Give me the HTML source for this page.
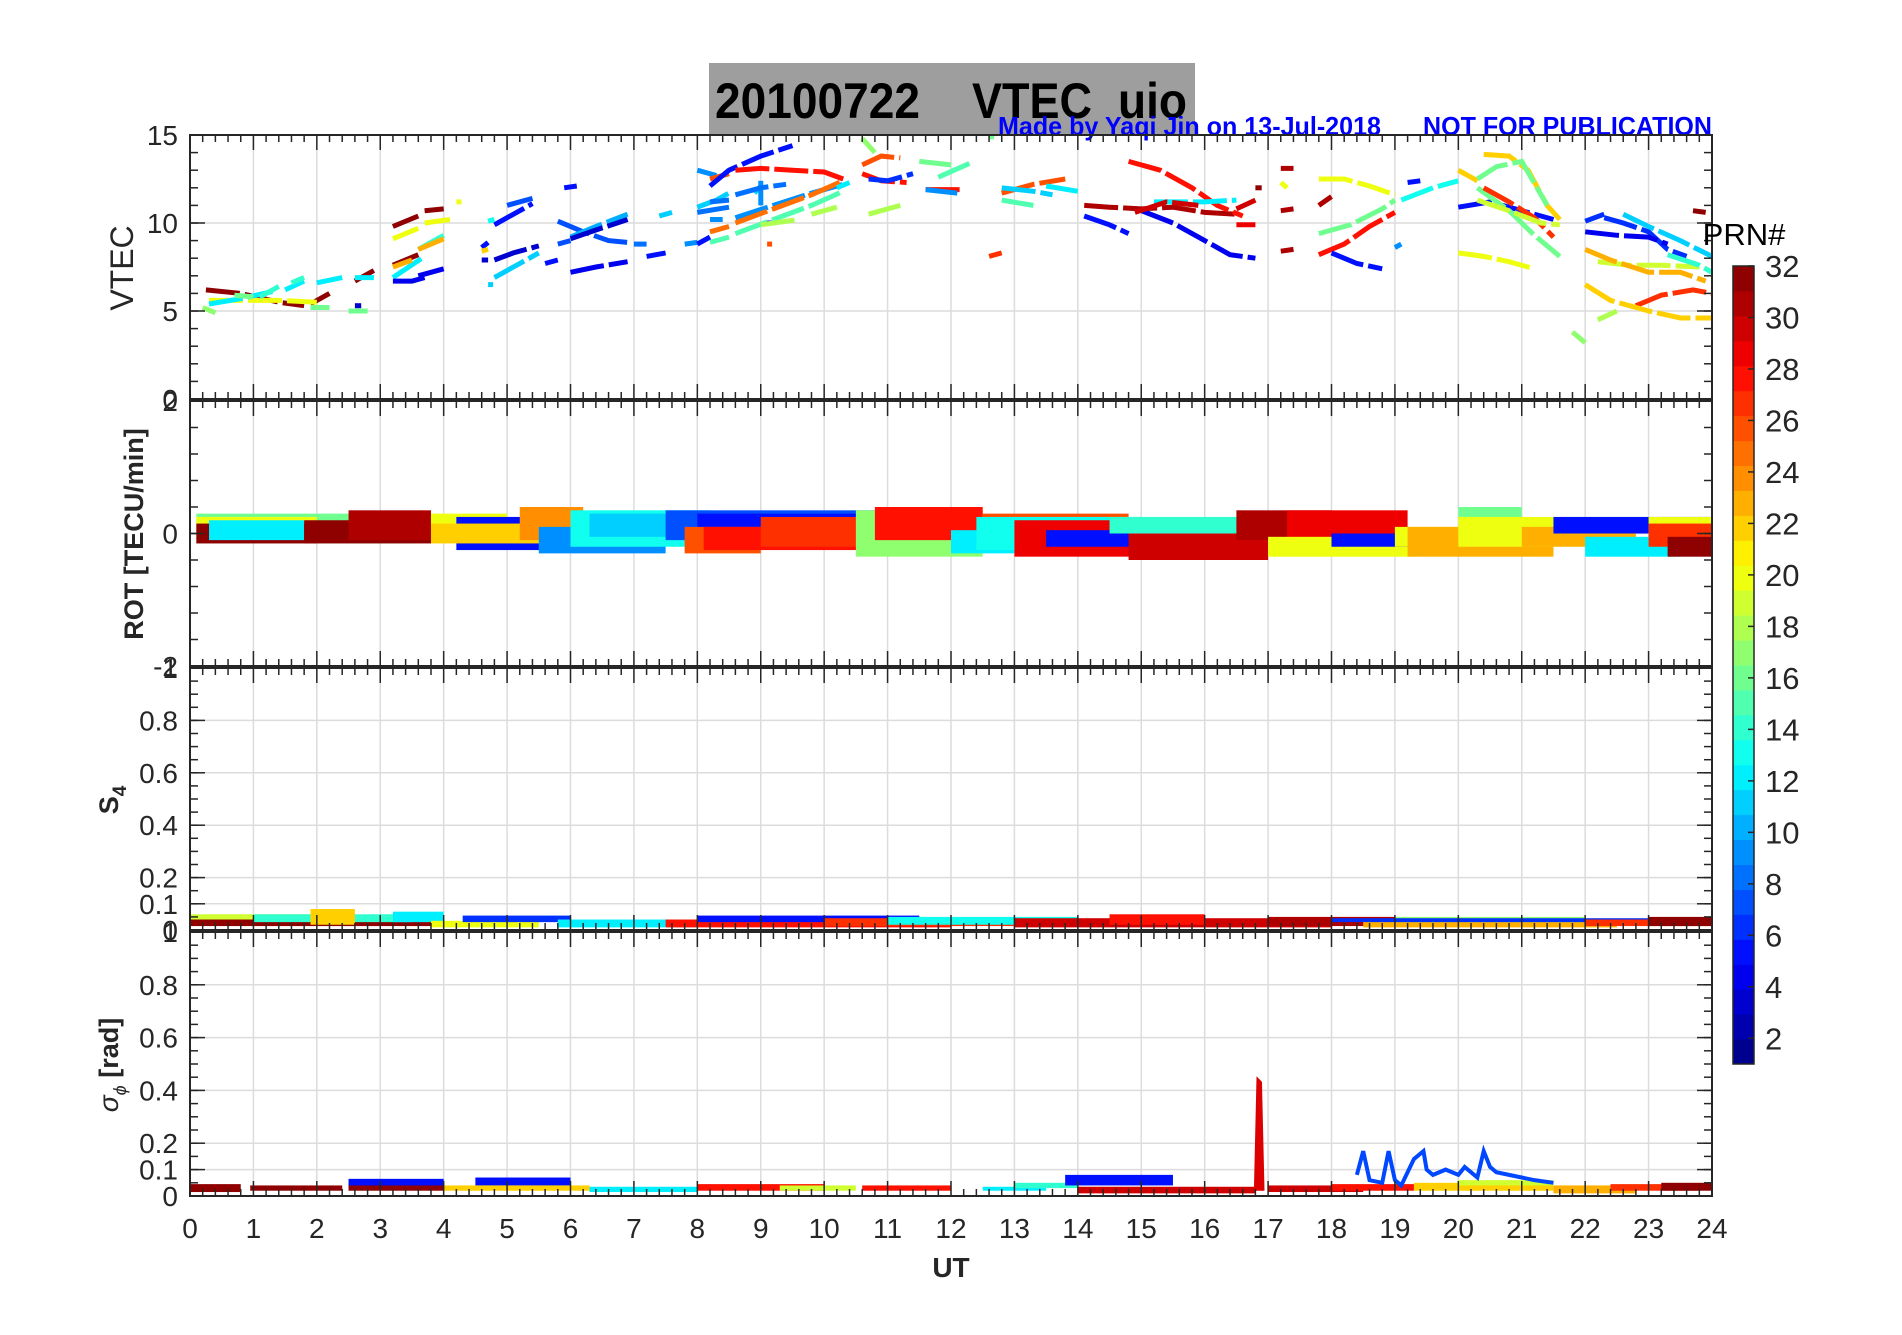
<!DOCTYPE html>
<html><head><meta charset="utf-8"><style>
body{margin:0;background:#fff}
svg text{font-family:"Liberation Sans",sans-serif}
</style></head><body>
<svg id="fig" width="1902" height="1330" xmlns="http://www.w3.org/2000/svg">
<rect width="1902" height="1330" fill="#fff"/>
<rect x="709" y="63" width="486" height="72" fill="#9e9e9e"/>
<text x="715" y="118" font-size="50" font-weight="bold" textLength="205" lengthAdjust="spacingAndGlyphs">20100722</text>
<text x="972" y="118" font-size="50" font-weight="bold" textLength="120" lengthAdjust="spacingAndGlyphs">VTEC</text>
<text x="1118" y="118" font-size="50" font-weight="bold" textLength="69" lengthAdjust="spacingAndGlyphs">uio</text>
<text x="998" y="135" font-size="26" font-weight="bold" fill="#0000ff" textLength="383" lengthAdjust="spacingAndGlyphs">Made by Yaqi Jin on 13-Jul-2018</text>
<text x="1423" y="135" font-size="26" font-weight="bold" fill="#0000ff" textLength="289" lengthAdjust="spacingAndGlyphs">NOT FOR PUBLICATION</text>
<g id="plots"></g>
</svg>
<script>
// ---- data ----
const vtecSegments = [
 [32,[0.25,6.2,0.8,6.0,1.4,5.5,1.8,5.3]],[32,[1.9,5.4,2.2,6.0]],[32,[2.6,6.7,2.9,7.3]],[32,[3.2,9.8,3.6,10.4]],[32,[3.7,10.7,4.0,10.8]],
 [32,[3.2,7.6,3.6,8.2]],[20,[0.3,5.6,0.8,5.6,1.4,5.6,2.0,5.5]],[20,[3.2,9.1,3.6,9.7]],[20,[3.7,10.0,4.1,10.2]],[20,[4.2,11.2]],
 [12,[0.3,5.4,0.8,5.7,1.3,6.1]],[12,[1.5,6.2,1.8,6.7]],[12,[2.0,6.6,2.4,6.9]],[12,[2.6,6.9,2.9,6.9]],[12,[3.2,6.9,3.7,8.1]],
 [14,[1.1,5.8,1.4,6.4]],[14,[1.6,6.6,1.8,6.9]],[14,[3.6,8.5,4.0,9.3]],[16,[0.7,5.9,1.0,5.8]],[16,[1.9,5.2,2.2,5.2]],[16,[2.5,5.0,2.8,5.0]],
 [17,[0.2,5.2,0.4,4.9]],[3,[2.6,5.3,2.7,5.3]],[4,[3.2,6.7,3.5,6.7,3.7,6.9]],[4,[3.6,7.0,4.0,7.4]],[23,[3.2,7.5,3.5,7.9]],[23,[3.6,8.5,4.0,9.1]],
 [5,[4.6,8.6,4.7,8.9]],[5,[4.8,9.9,5.0,10.3,5.4,11.1]],[7,[5.0,11.0,5.4,11.4]],[3,[4.6,7.9,4.7,7.9]],[3,[4.8,7.9,5.1,8.3,5.5,8.7]],
 [11,[4.7,6.5]],[11,[4.8,6.9,5.1,7.5,5.5,8.3]],[13,[4.7,10.1,4.8,10.2]],[22,[4.6,8.4,4.7,8.5]],
 [5,[5.6,7.7,5.8,7.9]],[7,[5.8,8.8,6.0,9.0]],[5,[5.9,12.0,6.1,12.1]],[7,[5.8,10.1,6.2,9.5,6.6,9.0,6.9,8.9]],
 [10,[6.0,9.2,6.4,9.8,6.9,10.5]],[3,[6.0,9.1,6.4,9.6,6.9,10.2]],[4,[6.0,7.2,6.4,7.5,6.9,7.8]],[8,[7.0,8.8,7.2,8.8]],[5,[7.2,8.1,7.5,8.3]],
 [11,[7.4,10.4,7.6,10.6]],[9,[7.8,8.8,8.0,8.9]],[5,[8.0,8.8,8.2,9.2]],[11,[8.0,10.9,8.3,11.3,8.5,11.7]],[8,[8.0,10.6,8.5,10.9]],
 [9,[8.0,13.0,8.3,12.7]],[11,[8.9,11.7,9.0,12.1]],[9,[9.0,11.0,9.0,12.4]],[26,[9.1,8.8]],[5,[9.1,10.0]],
 [26,[8.2,12.5,8.5,12.8]],[5,[8.2,12.1,8.5,13.0,9.0,13.8,9.5,14.4]],[28,[8.6,13.0,9.0,13.1,9.5,13.0,10.0,12.9,10.3,12.5]],
 [8,[8.2,11.2,8.5,11.3]],[8,[8.6,11.6,9.0,12.0,9.4,12.2]],[9,[8.2,10.2,8.4,10.2]],[9,[8.6,10.3,9.2,11.0,9.8,11.7,10.3,12.2]],
 [25,[8.2,9.5,8.5,9.8]],[25,[8.6,10.0,9.2,10.8,9.8,11.6,10.3,12.4]],[15,[8.2,8.9,8.5,9.2]],[15,[8.6,9.4,9.2,10.2,9.8,11.0,10.3,11.8]],
 [18,[9.0,9.9,9.6,10.2]],[18,[9.8,10.5,10.2,10.9]],[12,[10.2,12.0,10.4,12.3]],
 [17,[10.6,14.8,10.8,14.0]],[26,[10.6,13.3,10.9,13.8,11.2,13.7]],[28,[10.6,12.8,10.9,12.4,11.3,12.3]],[6,[10.7,12.5,11.0,12.4,11.4,12.8]],
 [18,[10.7,10.5,11.2,11.0]],[16,[11.5,13.5,12.0,13.3]],[15,[11.8,12.6,12.3,13.4]],[28,[11.6,11.9,12.2,11.9]],[9,[11.6,11.9,12.1,11.7]],
 [16,[12.6,14.9]],[27,[12.6,8.1,12.8,8.3]],[26,[12.8,11.7,13.3,12.2,13.8,12.5]],[11,[12.8,12.0,13.3,11.8,13.6,11.6]],[15,[12.8,11.3,13.3,11.0]],
 [12,[13.5,12.1,14.0,11.8]],[5,[14.1,10.4,14.5,9.9,14.8,9.4]],[31,[14.1,11.0,14.5,10.9,15.0,10.8,15.5,10.9,16.0,10.6,16.5,10.5]],
 [28,[14.8,13.5,15.3,13.0,15.8,12.0,16.2,11.0,16.6,10.4]],[4,[15.0,10.7,15.5,10.0,16.0,9.0,16.4,8.2,16.8,8.0]],[12,[15.2,11.2,16.0,11.2,16.5,11.3]],
 [30,[14.9,10.6,15.4,11.2,15.9,11.0]],[30,[16.5,10.8,16.8,11.3]],[29,[16.5,9.9,16.8,9.9]],[32,[16.8,12.0,16.9,12.0]],
 [31,[17.2,13.1,17.4,13.1]],[31,[17.2,10.7,17.4,10.8]],[31,[17.2,8.4,17.4,8.5]],[20,[17.2,12.3,17.3,12.0]],
 [20,[17.8,12.5,18.2,12.5,18.6,12.1,19.0,11.6]],[28,[17.8,8.2,18.2,8.8,18.6,9.8,19.0,10.6]],[16,[17.8,9.4,18.3,9.9,18.8,10.8,19.0,11.3]],
 [5,[18.0,8.3,18.4,7.7,18.8,7.4]],[31,[17.8,11.0,18.0,11.5]],[9,[19.0,8.6,19.1,8.8]],[13,[19.1,11.3,19.6,12.0,20.0,12.4]],
 [5,[19.2,12.3,19.4,12.4]],[22,[20.0,13.0,20.3,12.4]],[5,[20.0,10.9,20.5,11.2,21.0,10.7,21.5,10.2]],
 [22,[20.4,13.9,20.8,13.8,21.1,13.0,21.4,11.0,21.6,10.2]],[20,[20.0,8.3,20.4,8.1,20.8,7.8,21.2,7.4]],
 [16,[20.3,12.5,20.6,13.2,21.0,13.5,21.4,11.0]],[16,[20.3,12.0,20.8,10.7,21.2,9.3,21.6,8.1]],[27,[20.4,12.0,20.8,11.2,21.2,10.3,21.5,9.2]],
 [19,[20.3,11.3,20.8,10.7,21.3,10.0,21.6,9.9]],[6,[22.0,10.1,22.3,10.5]],[6,[22.3,10.3,22.6,10.0,23.0,9.5,23.3,8.5,23.6,8.1]],
 [11,[22.6,10.5,23.0,9.8,23.5,9.0,24.0,8.1]],[19,[22.2,7.8,22.7,7.6,23.2,7.6,23.8,7.5]],[23,[22.0,8.5,22.4,7.9,23.0,7.2,23.5,7.2,23.9,6.7]],
 [27,[22.8,5.3,23.2,5.9,23.7,6.2,24.0,6.0]],[22,[22.0,6.5,22.4,5.6,23.0,5.0,23.5,4.6,24.0,4.6]],[14,[23.3,8.2,23.8,7.6,24.0,7.2]],
 [32,[23.7,10.7,23.9,10.6]],[17,[21.8,3.8,22.0,3.2]],[18,[22.2,4.5,22.5,5.0]],[4,[22.0,9.5,22.5,9.3,23.0,9.2,23.3,8.8]]
];
// ROT noisy bands: [prn, t0, t1, lo, hi] in TECU/min
const rotBands = [
 [16,0.1,3.5,-0.15,0.3],[20,0.1,2.0,-0.1,0.25],[32,0.1,2.0,-0.15,0.15],[12,0.3,1.8,-0.1,0.2],[32,1.8,3.8,-0.15,0.2],[31,2.5,3.8,-0.1,0.35],
 [20,3.8,5.0,-0.05,0.3],[5,4.2,6.0,-0.25,0.25],[22,3.8,6.2,-0.15,0.15],[24,5.2,6.2,-0.1,0.4],[9,5.5,7.5,-0.3,0.1],
 [13,6.0,8.2,-0.2,0.35],[11,6.3,8.0,-0.05,0.3],[7,7.5,11.0,-0.1,0.35],[5,8.0,10.5,0.0,0.3],[26,7.8,9.0,-0.3,0.1],
 [28,8.1,12.0,-0.25,0.1],[27,9.0,11.5,-0.2,0.25],[17,10.5,12.5,-0.35,0.35],[28,10.8,12.5,-0.1,0.4],[12,12.0,13.0,-0.3,0.05],
 [26,12.5,14.8,-0.1,0.3],[13,12.4,15.0,-0.25,0.25],[29,13.0,15.0,-0.35,0.2],[5,13.5,15.0,-0.2,0.05],[30,14.8,17.0,-0.4,0.1],
 [14,14.5,18.0,0.0,0.25],[31,16.5,18.0,-0.1,0.35],[29,17.3,19.2,-0.1,0.35],[20,17.0,19.3,-0.35,-0.05],[5,18.0,19.3,-0.2,0.0],
 [20,19.0,20.0,-0.2,0.1],[23,19.2,21.5,-0.35,0.1],[16,20.0,21.0,0.0,0.4],[20,20.0,21.5,-0.2,0.25],[23,21.0,22.8,-0.2,0.1],
 [5,21.5,24.0,0.0,0.25],[12,22.0,23.5,-0.35,-0.05],[20,23.0,24.0,-0.05,0.25],[27,23.0,24.0,-0.2,0.15],[32,23.3,24.0,-0.35,-0.05]
];
// S4 bands [prn, t0, t1, lo, hi]
const s4Bands = [
 [19,0.0,2.0,0.02,0.06],[32,0.0,3.8,0.015,0.04],[14,1.0,3.5,0.03,0.06],[22,1.9,2.6,0.02,0.08],[12,3.2,4.0,0.03,0.07],
 [20,3.8,5.5,0.01,0.035],[6,4.3,6.0,0.03,0.055],[12,5.8,8.0,0.01,0.04],[28,7.5,12.0,0.01,0.04],[5,8.0,11.5,0.03,0.055],
 [27,10.0,14.0,0.015,0.045],[13,11.0,14.0,0.02,0.05],[30,13.0,18.0,0.01,0.045],[28,14.5,16.0,0.02,0.06],[31,17.0,19.0,0.015,0.05],
 [23,18.5,22.5,0.01,0.035],[17,19.0,22.0,0.03,0.05],[6,18.0,24.0,0.03,0.045],[27,22.0,24.0,0.015,0.04],[32,23.0,24.0,0.015,0.05]
];
// sigma-phi bands and spike series
const sigBands = [
 [32,0.0,0.8,0.015,0.045],[32,0.95,2.4,0.02,0.04],[32,2.5,4.0,0.02,0.045],[5,2.5,4.0,0.04,0.065],[5,4.5,6.0,0.04,0.07],
 [22,4.0,6.3,0.02,0.04],[12,6.3,8.0,0.015,0.035],[28,8.0,10.0,0.02,0.045],[19,9.3,10.5,0.02,0.04],[28,10.6,12.0,0.02,0.04],
 [12,12.5,13.5,0.02,0.035],[14,13.0,14.0,0.03,0.05],[5,13.8,15.5,0.04,0.08],[30,14.0,16.8,0.01,0.035],[30,17.0,18.5,0.015,0.04],
 [28,18.0,19.3,0.02,0.045],[22,19.3,21.5,0.02,0.05],[19,20.0,21.5,0.04,0.06],[23,21.5,22.8,0.01,0.04],[27,22.4,23.8,0.02,0.045],[32,23.2,24.0,0.02,0.05]
];
const sigSpikeTimes = [16.80,16.84,16.88,16.92];
const sigSpikeValues = [0.02,0.44,0.43,0.02];
const sigBlueTimes = [18.4,18.5,18.6,18.8,18.9,19.0,19.1,19.3,19.45,19.5,19.6,19.8,20.0,20.1,20.3,20.4,20.5,20.6,20.8,21.0,21.2,21.5];
const sigBlueValues = [0.08,0.17,0.06,0.05,0.17,0.06,0.04,0.14,0.17,0.10,0.08,0.10,0.08,0.11,0.07,0.17,0.11,0.09,0.08,0.07,0.06,0.05];
const cbTicks = [2,4,6,8,10,12,14,16,18,20,22,24,26,28,30,32];
const xTicks = [0,1,2,3,4,5,6,7,8,9,10,11,12,13,14,15,16,17,18,19,20,21,22,23,24];

// ---- helpers ----
const NS='http://www.w3.org/2000/svg';
const root=document.getElementById('plots');
function mk(tag,attrs,parent){const e=document.createElementNS(NS,tag);for(const k in attrs)e.setAttribute(k,attrs[k]);(parent||root).appendChild(e);return e;}
function jet(p){const t=(p-0.5)/32;const c=v=>Math.round(255*Math.max(0,Math.min(1,v)));
 return `rgb(${c(1.5-Math.abs(4*t-3))},${c(1.5-Math.abs(4*t-2))},${c(1.5-Math.abs(4*t-1))})`;}
const XL=190,XR=1712;
const X=t=>XL+t/24*(XR-XL);
const panels=[
 {name:'vtec',top:135,bot:399,min:0,max:15,ticks:[0,5,10,15],minor:1},
 {name:'rot',top:401,bot:666,min:-2,max:2,ticks:[-2,0,2],minor:0.4},
 {name:'s4',top:668,bot:930,min:0,max:1,ticks:[0,0.1,0.2,0.4,0.6,0.8,1],minor:0.05},
 {name:'sigma',top:932,bot:1196,min:0,max:1,ticks:[0,0.1,0.2,0.4,0.6,0.8,1],minor:0.05}
];
panels.forEach(P=>{P.Y=v=>P.bot-(v-P.min)/(P.max-P.min)*(P.bot-P.top);});

panels.forEach(P=>{
 const g=mk('g',{});
 
 
 xTicks.forEach(t=>mk('line',{x1:X(t),x2:X(t),y1:P.top,y2:P.bot,stroke:'#dcdcdc','stroke-width':1.5},g));
 P.ticks.forEach(v=>mk('line',{x1:XL,x2:XR,y1:P.Y(v),y2:P.Y(v),stroke:'#dcdcdc','stroke-width':1.5},g));
});

const P1=panels[0];
vtecSegments.forEach(s=>{
 const pts=[];for(let i=0;i<s[1].length;i+=2)pts.push(X(s[1][i]).toFixed(1)+','+P1.Y(s[1][i+1]).toFixed(1));
 if(pts.length===1){const [a,b]=pts[0].split(',');pts.push((+a+5)+','+b);}
 const l=mk('polyline',{points:pts.join(' '),fill:'none',stroke:jet(s[0]),'stroke-width':5,'stroke-dasharray':'34 5','stroke-linecap':'butt'});
 
 
});
function bands(arr,P,name){
 arr.forEach(b=>{
  const r=mk('rect',{x:X(b[1]),y:P.Y(b[4]),width:X(b[2])-X(b[1]),height:P.Y(b[3])-P.Y(b[4]),fill:jet(b[0])});
  
  
 });
}
bands(rotBands,panels[1],'rot');
bands(s4Bands,panels[2],'s4');
bands(sigBands,panels[3],'sigma');
const P4=panels[3];
const sp=mk('polyline',{points:sigSpikeTimes.map((t,i)=>X(t)+','+P4.Y(sigSpikeValues[i])).join(' '),fill:'#dd0000',stroke:'#dd0000','stroke-width':3});


const bl=mk('polyline',{points:sigBlueTimes.map((t,i)=>X(t)+','+P4.Y(sigBlueValues[i])).join(' '),fill:'none',stroke:'#0048ff','stroke-width':4});



panels.forEach((P,pi)=>{
 const g=mk('g',{});
 
 
 mk('rect',{x:XL,y:P.top,width:XR-XL,height:P.bot-P.top,fill:'none',stroke:'#262626','stroke-width':2},g);
 for(let t=0;t<=24.001;t+=0.2){const maj=Math.abs(t-Math.round(t))<0.01;const L=maj?15:7;
  mk('line',{x1:X(t),x2:X(t),y1:P.bot,y2:P.bot-L,stroke:'#262626','stroke-width':1.5},g);
  mk('line',{x1:X(t),x2:X(t),y1:P.top,y2:P.top+L,stroke:'#262626','stroke-width':1.5},g);}
 for(let v=P.min;v<=P.max+1e-6;v+=P.minor){
  mk('line',{x1:XL,x2:XL+8,y1:P.Y(v),y2:P.Y(v),stroke:'#262626','stroke-width':1.5},g);
  mk('line',{x1:XR,x2:XR-8,y1:P.Y(v),y2:P.Y(v),stroke:'#262626','stroke-width':1.5},g);}
 P.ticks.forEach(v=>{
  mk('line',{x1:XL,x2:XL+15,y1:P.Y(v),y2:P.Y(v),stroke:'#262626','stroke-width':1.5},g);
  mk('line',{x1:XR,x2:XR-15,y1:P.Y(v),y2:P.Y(v),stroke:'#262626','stroke-width':1.5},g);
  const tx=mk('text',{x:XL-12,y:P.Y(v)+10,'text-anchor':'end','font-size':28,fill:'#262626'},g);
  tx.textContent=String(v);
  
  
 });
});
xTicks.forEach(t=>{
 const tx=mk('text',{x:X(t),y:1238,'text-anchor':'middle','font-size':28,fill:'#262626'});
 tx.textContent=String(t);
 
 
});
function label(txt,x,y,bold,name,size){
 const t=mk('text',{x:x,y:y,'text-anchor':'middle','font-size':size||30,'font-weight':bold?'bold':'normal',fill:'#262626',transform:`rotate(-90 ${x} ${y})`});
 t.textContent=txt;
 
 return t;
}
label('VTEC',133,268,false,'vtec-axis-title',32);
label('ROT [TECU/min]',143,534,true,'rot-axis-title',27);
const s4=label('S',118,800,true,'s4-axis-title',27);
const sub=mk('tspan',{'font-size':19,dy:8},s4);sub.textContent='4';
const sg=label('σ',118,1065,false,'sigma-axis-title',28);sg.setAttribute('font-style','italic');
const sg2=mk('tspan',{'font-size':18,dy:8},sg);sg2.textContent='ϕ';
const sg3=mk('tspan',{'font-size':27,dy:-8,'font-weight':'bold','font-style':'normal'},sg);sg3.textContent=' [rad]';
const ut=mk('text',{x:951,y:1277,'text-anchor':'middle','font-size':28,'font-weight':'bold',fill:'#262626'});
ut.textContent='UT';



// colorbar
const CB={x:1733,w:21,top:266,bot:1064};
const cg=mk('g',{});


const cyCell=v=>CB.bot-(v-0.5)/32*(CB.bot-CB.top);
const cy=v=>CB.bot-(v-1)/31*(CB.bot-CB.top);
for(let p=1;p<=32;p++)mk('rect',{x:CB.x,y:cyCell(p+0.5),width:CB.w,height:cyCell(p-0.5)-cyCell(p+0.5)+0.5,fill:jet(p)},cg);
mk('rect',{x:CB.x,y:CB.top,width:CB.w,height:CB.bot-CB.top,fill:'none',stroke:'#262626','stroke-width':1.5},cg);
cbTicks.forEach(v=>{
 mk('line',{x1:CB.x+CB.w-6,x2:CB.x+CB.w,y1:cy(v),y2:cy(v),stroke:'#262626','stroke-width':1.5},cg);
 const t=mk('text',{x:1765,y:cy(v)+11,'font-size':31,fill:'#262626'},cg);
 t.textContent=String(v);
 
 
});
const prn=mk('text',{x:1744,y:245,'text-anchor':'middle','font-size':31,fill:'#000'});
prn.textContent='PRN#';


</script>
</body></html>
